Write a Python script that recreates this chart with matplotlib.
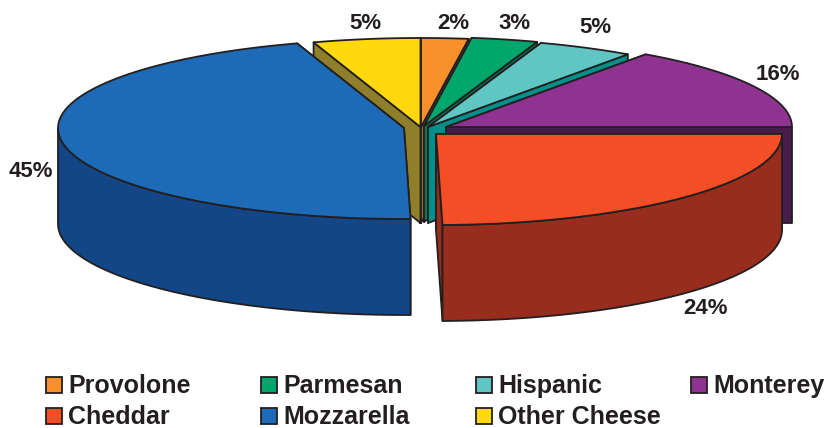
"""Exploded 3D pie of US cheese production, drawn with plain polygons."""

import numpy as np
import matplotlib
matplotlib.use("Agg")
import matplotlib.pyplot as plt
from matplotlib.patches import Polygon, Rectangle

plt.rcParams["font.family"] = ["Liberation Sans", "DejaVu Sans"]

names = ["Provolone", "Parmesan", "Hispanic", "Monterey", "Cheddar", "Mozzarella", "Other Cheese"]
shares = [2.2, 3.1, 4.5, 15.2, 24.7, 45.3, 5.0]
pct_labels = ["2%", "3%", "5%", "16%", "24%", "45%", "5%"]

top_colors = ["#F7902B", "#00A66C", "#5FC6C3", "#8E3390", "#F34E26", "#1D6AB6", "#FFD80D"]
side_colors = ["#A8622A", "#007A50", "#00908B", "#471B4A", "#982D1E", "#124687", "#8F7F2A"]

# apex of each exploded slice, in pixels
apex_x = [421, 424, 428, 446, 436, 404, 420.5]
apex_y = [127, 126, 127, 127, 134, 128, 127]
label_x = [453, 515, 595, 778, 706, 31, 365]
label_y = [23.5, 23.5, 27, 74, 309, 171.5, 23.5]

RX, RY_BACK, RY_FRONT, DEPTH = 346, 89, 91, 96
EDGE = "#231F20"
START = 90
draw_order = [6, 0, 1, 2, 3, 5, 4]

legend_x = [46, 261, 476, 691, 46, 261, 476]
legend_y = [385, 385, 385, 385, 416, 416, 416]


def rim(cx, cy, a0, a1, n=80):
    t = np.radians(np.linspace(a0, a1, n))
    s = np.sin(t)
    return np.column_stack([cx + RX * np.cos(t), cy - np.where(s > 0, RY_BACK, RY_FRONT) * s])


def draw_slice(ax, i, a0, a1):
    cx, cy = apex_x[i], apex_y[i]
    side, top = side_colors[i], top_colors[i]
    kw = dict(ec=EDGE, lw=1.3, joinstyle="round")

    # cut faces, the further one first
    for a in sorted([a0, a1], key=lambda v: -np.sin(np.radians(v))):
        p = rim(cx, cy, a, a, 1)[0]
        ax.add_patch(Polygon([(cx, cy), p, (p[0], p[1] + DEPTH), (cx, cy + DEPTH)], fc=side, **kw))

    # outer wall, only the part facing the viewer
    lo, hi = max(a0, -180), min(a1, 0)
    if lo < hi:
        r = rim(cx, cy, lo, hi)
        low = r + [0, DEPTH]
        ax.add_patch(Polygon(np.vstack([r, low[::-1]]), fc=side, **kw))

    ax.add_patch(Polygon(np.vstack([[cx, cy], rim(cx, cy, a0, a1)]), fc=top, **kw))


def main():
    fig = plt.figure(figsize=(8.28, 4.28), dpi=100)
    ax = fig.add_axes([0, 0, 1, 1])
    ax.set_xlim(0, 828)
    ax.set_ylim(428, 0)
    ax.axis("off")

    ends = START - np.cumsum(shares) * 3.6
    starts = np.concatenate([[START], ends[:-1]])
    for i in draw_order:
        draw_slice(ax, i, ends[i], starts[i])

    for i, txt in enumerate(pct_labels):
        ax.text(label_x[i], label_y[i], txt, fontsize=16, fontweight="bold", color=EDGE,
                ha="center", va="center")

    for i, name in enumerate(names):
        ax.add_patch(Rectangle((legend_x[i], legend_y[i] - 8), 16, 16, fc=top_colors[i], ec=EDGE, lw=1.3))
        ax.text(legend_x[i] + 22, legend_y[i] + 1, name, fontsize=18, fontweight="bold", color=EDGE,
                ha="left", va="center")

    fig.savefig("out.png", dpi=100)


if __name__ == "__main__":
    main()
